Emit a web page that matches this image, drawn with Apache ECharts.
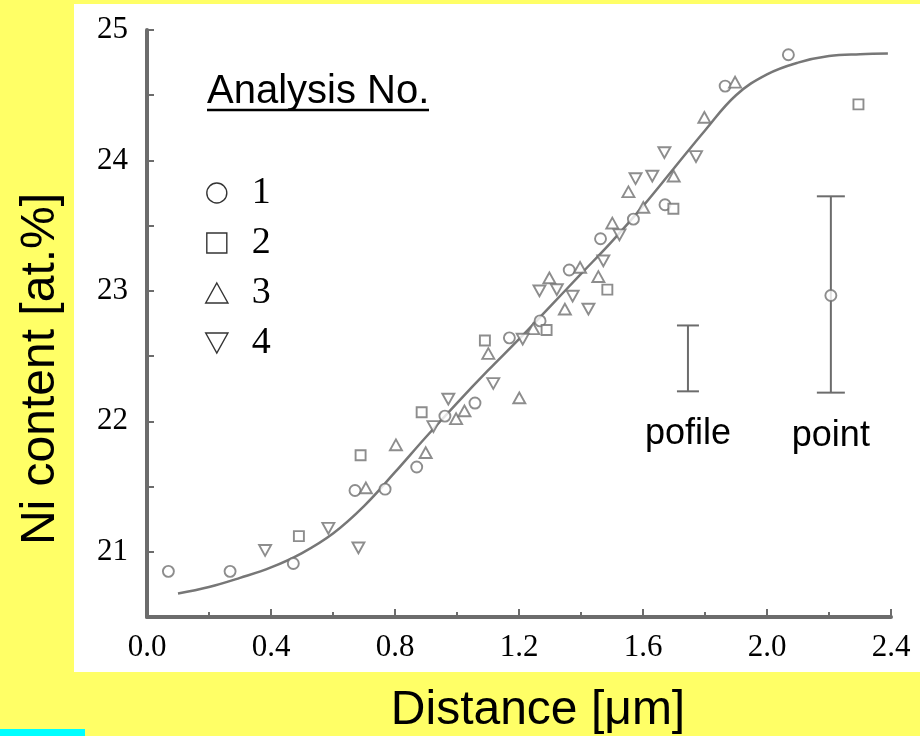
<!DOCTYPE html>
<html>
<head>
<meta charset="utf-8">
<title>Ni content profile</title>
<script src="https://cdn.jsdelivr.net/npm/echarts@6/dist/echarts.min.js"></script>
<style>
  html, body { margin: 0; padding: 0; }
  #chart { width: 920px; height: 736px; }
</style>
</head>
<body>
<div id="chart"></div>
<script type="text/javascript">
// measured points, [distance um, Ni at.%]
var analysis1 = [[0.069,20.85],[0.268,20.85],[0.472,20.91],[0.671,21.47],[0.768,21.48],[0.870,21.65],
  [0.961,22.04],[1.058,22.14],[1.169,22.64],[1.268,22.77],[1.362,23.16],[1.463,23.40],[1.569,23.55],
  [1.671,23.66],[1.865,24.57],[2.069,24.81]];
var analysis2 = [[0.490,21.12],[0.689,21.74],[0.886,22.07],[1.090,22.62],[1.289,22.70],[1.485,23.01],
  [1.698,23.63],[2.295,24.43]];
var analysis3 = [[0.706,21.49],[0.803,21.82],[0.899,21.76],[0.997,22.02],[1.024,22.08],[1.101,22.52],
  [1.201,22.18],[1.246,22.71],[1.298,23.10],[1.348,22.86],[1.397,23.18],[1.456,23.11],[1.501,23.52],
  [1.553,23.76],[1.601,23.64],[1.699,23.88],[1.798,24.33],[1.897,24.60]];
var analysis4 = [[0.381,21.01],[0.585,21.18],[0.682,21.03],[0.924,21.96],[0.972,22.17],[1.117,22.29],
  [1.212,22.63],[1.266,23.00],[1.322,23.01],[1.373,22.96],[1.424,22.86],[1.472,23.23],[1.524,23.43],
  [1.576,23.86],[1.630,23.88],[1.669,24.06],[1.771,24.03]];

// fitted curve
var curveX = [0.10,0.20,0.30,0.40,0.50,0.60,0.70,0.80,0.90,1.00,1.10,1.20,1.30,1.40,1.50,1.60,1.70,1.80,1.90,2.00,2.10,2.20,2.30,2.39];
var curveY = [20.68,20.73,20.80,20.88,20.99,21.14,21.35,21.61,21.88,22.14,22.39,22.63,22.88,23.13,23.38,23.65,23.94,24.23,24.50,24.66,24.75,24.80,24.815,24.82];

// error bars: profile and point analysis
var errNames = ['pofile', 'point'];
var errX = [1.745, 2.206];
var errLow = [22.23, 22.22];
var errHigh = [22.735, 23.725];
var pointMean = [[2.206, 22.965]];

var seriesNames = ['1', '2', '3', '4'];
var xTickLabels = ['0.0', '0.4', '0.8', '1.2', '1.6', '2.0', '2.4'];
var yTickLabels = ['21', '22', '23', '24', '25'];

var grey = '#6c6c6c';
var capHalf = [11, 14];
var markStyle = {color: '#fff', borderColor: '#707070', borderWidth: 1.9};
var square = 'path://M0,0L1,0L1,1L0,1Z';
var triUp = 'path://M1,0L2,1.8L0,1.8Z';
var triDown = 'path://M0,0L2,0L1,1.8Z';

var myChart = echarts.init(document.getElementById('chart'));

myChart.setOption({
  backgroundColor: '#ffff66',
  animation: false,
  graphic: [
    {type: 'rect', z: -10, shape: {x: 74, y: 4, width: 846, height: 668}, style: {fill: '#fff'}},
    {type: 'rect', z: -10, shape: {x: 0, y: 729, width: 85, height: 7}, style: {fill: '#00ffff'}},
    {type: 'text', x: 207, y: 92, style: {text: 'Analysis No.', font: '40px "Liberation Sans"', fill: '#000',
      align: 'left', verticalAlign: 'middle', textAlign: 'left', textVerticalAlign: 'middle'}},
    {type: 'line', shape: {x1: 207, y1: 110, x2: 429, y2: 110}, style: {stroke: '#000', lineWidth: 2.5}},
    {type: 'text', x: 538, y: 711, style: {text: 'Distance [\u03bcm]', font: '48px "Liberation Sans"', fill: '#000',
      align: 'center', verticalAlign: 'middle', textAlign: 'center', textVerticalAlign: 'middle'}},
    {type: 'text', x: 41, y: 369, rotation: Math.PI / 2, style: {text: 'Ni content [at.%]', font: '48px "Liberation Sans"', fill: '#000',
      align: 'center', verticalAlign: 'middle', textAlign: 'center', textVerticalAlign: 'middle'}}
  ],
  grid: {left: 147, right: 29, top: 30, bottom: 119},
  legend: {
    orient: 'vertical', left: 200, top: 168,
    itemWidth: 60, itemHeight: 20, itemGap: 10,
    selectedMode: false,
    symbolKeepAspect: true,
    data: seriesNames,
    textStyle: {fontFamily: 'Liberation Serif', fontSize: 38, color: '#000', lineHeight: 40},
    itemStyle: {color: '#fff', borderColor: '#000', borderWidth: 1.4}
  },
  xAxis: {
    type: 'value', min: 0, max: 2.4, interval: 0.4,
    axisLine: {lineStyle: {color: grey, width: 4}},
    axisTick: {inside: true, length: 8, lineStyle: {color: grey, width: 2}},
    minorTick: {show: true, splitNumber: 2, length: 5, lineStyle: {color: grey, width: 2}},
    axisLabel: {margin: 15, color: '#000', fontFamily: 'Liberation Serif', fontSize: 31,
      formatter: function (v, i) { return xTickLabels[i]; }},
    splitLine: {show: false}
  },
  yAxis: {
    type: 'value', min: 20.5, max: 25, interval: 0.5,
    axisLine: {show: true, lineStyle: {color: grey, width: 4}},
    axisTick: {show: true, inside: true, length: 7, lineStyle: {color: grey, width: 2}},
    axisLabel: {margin: 19, color: '#000', fontFamily: 'Liberation Serif', fontSize: 31,
      formatter: function (v) {
        var s = String(Math.round(v));
        return (Math.abs(v - Math.round(v)) < 1e-6 && yTickLabels.indexOf(s) >= 0) ? s : '';
      }},
    splitLine: {show: false}
  },
  series: [
    {
      name: 'fit', type: 'line', smooth: 0.4, showSymbol: false, z: 1,
      lineStyle: {color: '#777', width: 2.5},
      data: curveX.map(function (x, i) { return [x, curveY[i]]; })
    },
    {
      name: 'error', type: 'custom', z: 2,
      data: errX.map(function (x, i) { return [x, errLow[i], errHigh[i], i]; }),
      renderItem: function (params, api) {
        var x = api.value(0);
        var lo = api.coord([x, api.value(1)]);
        var hi = api.coord([x, api.value(2)]);
        var i = api.value(3);
        var hw = capHalf[i];
        var st = {stroke: grey, lineWidth: 2};
        return {
          type: 'group',
          children: [
            {type: 'line', shape: {x1: lo[0], y1: lo[1], x2: hi[0], y2: hi[1]}, style: st},
            {type: 'line', shape: {x1: lo[0] - hw, y1: lo[1], x2: lo[0] + hw, y2: lo[1]}, style: st},
            {type: 'line', shape: {x1: hi[0] - hw, y1: hi[1], x2: hi[0] + hw, y2: hi[1]}, style: st},
            {type: 'text', x: lo[0], y: lo[1] + 43, style: {text: errNames[i], font: '36px "Liberation Sans"',
              fill: '#000', align: 'center', verticalAlign: 'middle', textAlign: 'center', textVerticalAlign: 'middle'}}
          ]
        };
      }
    },
    {name: 'pointMean', type: 'scatter', symbol: 'circle', symbolSize: 11, z: 5, itemStyle: markStyle, data: pointMean},
    {name: '1', type: 'scatter', symbol: 'circle', symbolSize: 11, z: 5, itemStyle: markStyle, data: analysis1},
    {name: '2', type: 'scatter', symbol: square, symbolKeepAspect: true, symbolSize: 10, z: 5, itemStyle: markStyle, data: analysis2},
    {name: '3', type: 'scatter', symbol: triUp, symbolKeepAspect: true, symbolSize: 12, z: 5, itemStyle: markStyle, data: analysis3},
    {name: '4', type: 'scatter', symbol: triDown, symbolKeepAspect: true, symbolSize: 12, z: 5, itemStyle: markStyle, data: analysis4}
  ]
});
</script>
</body>
</html>
